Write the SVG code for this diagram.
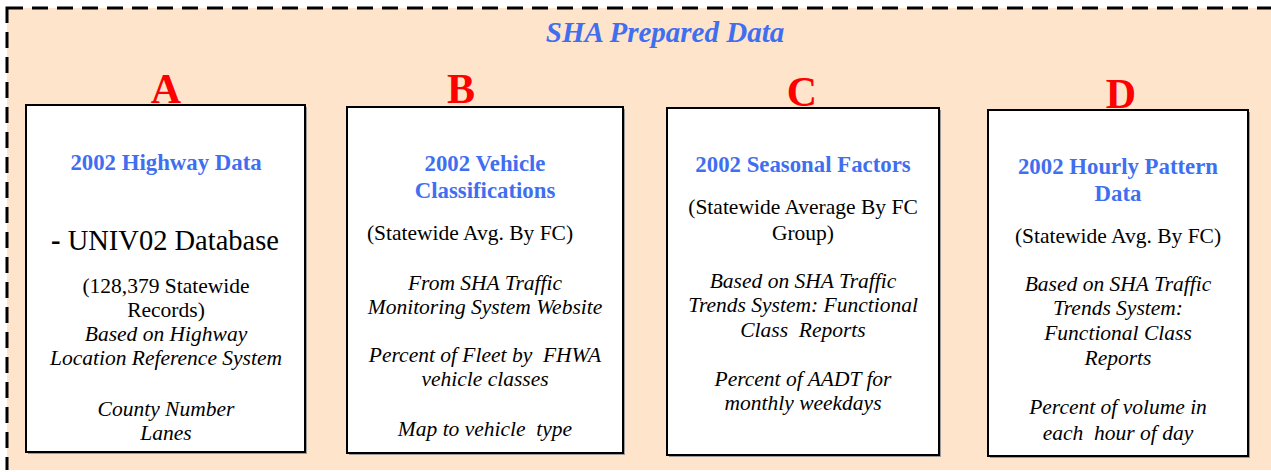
<svg xmlns="http://www.w3.org/2000/svg" width="1271" height="472" viewBox="0 0 1271 472">
<defs>
<style>
.box{fill:#fff;stroke:#000;stroke-width:2}
.shadow{fill:#9a9a9a}
.t{font-family:"Liberation Serif","Times New Roman",serif;text-anchor:middle;fill:#000}
.h{font-weight:bold;fill:#3f6ff0;font-size:22.8px}
.b{font-size:21.5px}
.i{font-style:italic;font-size:21.5px}
.L{font-weight:bold;fill:#ff0000;font-size:42px}
</style>
</defs>
<rect x="0" y="0" width="1271" height="472" fill="#fff"/>
<rect id="frame" x="7" y="8" width="1290" height="480" fill="#fde4cb" stroke="#000" stroke-width="3" stroke-dasharray="16,9"/>
<rect x="0" y="470" width="1271" height="2" fill="#fff"/>
<text class="t" x="665" y="42" style="font-weight:bold;font-style:italic;fill:#3f6ff0;font-size:29px">SHA Prepared Data</text>
<g id="connectors"></g>
<g id="nodeA">
<rect class="shadow" x="28" y="107" width="279" height="347"/>
<rect class="box" x="26" y="105" width="279" height="347"/>
<text class="t L" x="166" y="103">A</text>
<text class="t h" x="166" y="170">2002 Highway Data</text>
<text class="t" x="165" y="250" style="font-size:28.5px"><tspan font-weight="bold">-</tspan> UNIV02 Database</text>
<text class="t b" x="166" y="293">(128,379 Statewide</text>
<text class="t b" x="166" y="317">Records)</text>
<text class="t i" x="166" y="341">Based on Highway</text>
<text class="t i" x="166" y="365">Location Reference System</text>
<text class="t i" x="166" y="416">County Number</text>
<text class="t i" x="166" y="440">Lanes</text>
</g>
<g id="nodeB">
<rect class="shadow" x="349" y="109" width="276" height="346"/>
<rect class="box" x="347" y="107" width="276" height="346"/>
<text class="t L" x="461" y="103">B</text>
<text class="t h" x="485" y="171">2002 Vehicle</text>
<text class="t h" x="485" y="198">Classifications</text>
<text class="t b" x="470" y="240">(Statewide Avg. By FC)</text>
<text class="t i" x="485" y="290">From SHA Traffic</text>
<text class="t i" x="485" y="314">Monitoring System Website</text>
<text class="t i" x="485" y="362" xml:space="preserve">Percent of Fleet by  FHWA</text>
<text class="t i" x="485" y="386">vehicle classes</text>
<text class="t i" x="485" y="436" xml:space="preserve">Map to vehicle  type</text>
</g>
<g id="nodeC">
<rect class="shadow" x="669" y="110" width="272" height="347"/>
<rect class="box" x="667" y="108" width="272" height="347"/>
<text class="t L" x="802" y="106">C</text>
<text class="t h" x="803" y="172">2002 Seasonal Factors</text>
<text class="t b" x="803" y="214">(Statewide Average By FC</text>
<text class="t b" x="803" y="240">Group)</text>
<text class="t i" x="803" y="288">Based on SHA Traffic</text>
<text class="t i" x="803" y="312">Trends System: Functional</text>
<text class="t i" x="803" y="337" xml:space="preserve">Class  Reports</text>
<text class="t i" x="803" y="386">Percent of AADT for</text>
<text class="t i" x="803" y="410">monthly weekdays</text>
</g>
<g id="nodeD">
<rect class="shadow" x="990" y="112" width="260" height="346"/>
<rect class="box" x="988" y="110" width="260" height="346"/>
<text class="t L" x="1121" y="108">D</text>
<text class="t h" x="1118" y="174">2002 Hourly Pattern</text>
<text class="t h" x="1118" y="201">Data</text>
<text class="t b" x="1118" y="243">(Statewide Avg. By FC)</text>
<text class="t i" x="1118" y="291">Based on SHA Traffic</text>
<text class="t i" x="1118" y="315">Trends System:</text>
<text class="t i" x="1118" y="340">Functional Class</text>
<text class="t i" x="1118" y="365">Reports</text>
<text class="t i" x="1118" y="414">Percent of volume in</text>
<text class="t i" x="1118" y="440" xml:space="preserve">each  hour of day</text>
</g>
</svg>
